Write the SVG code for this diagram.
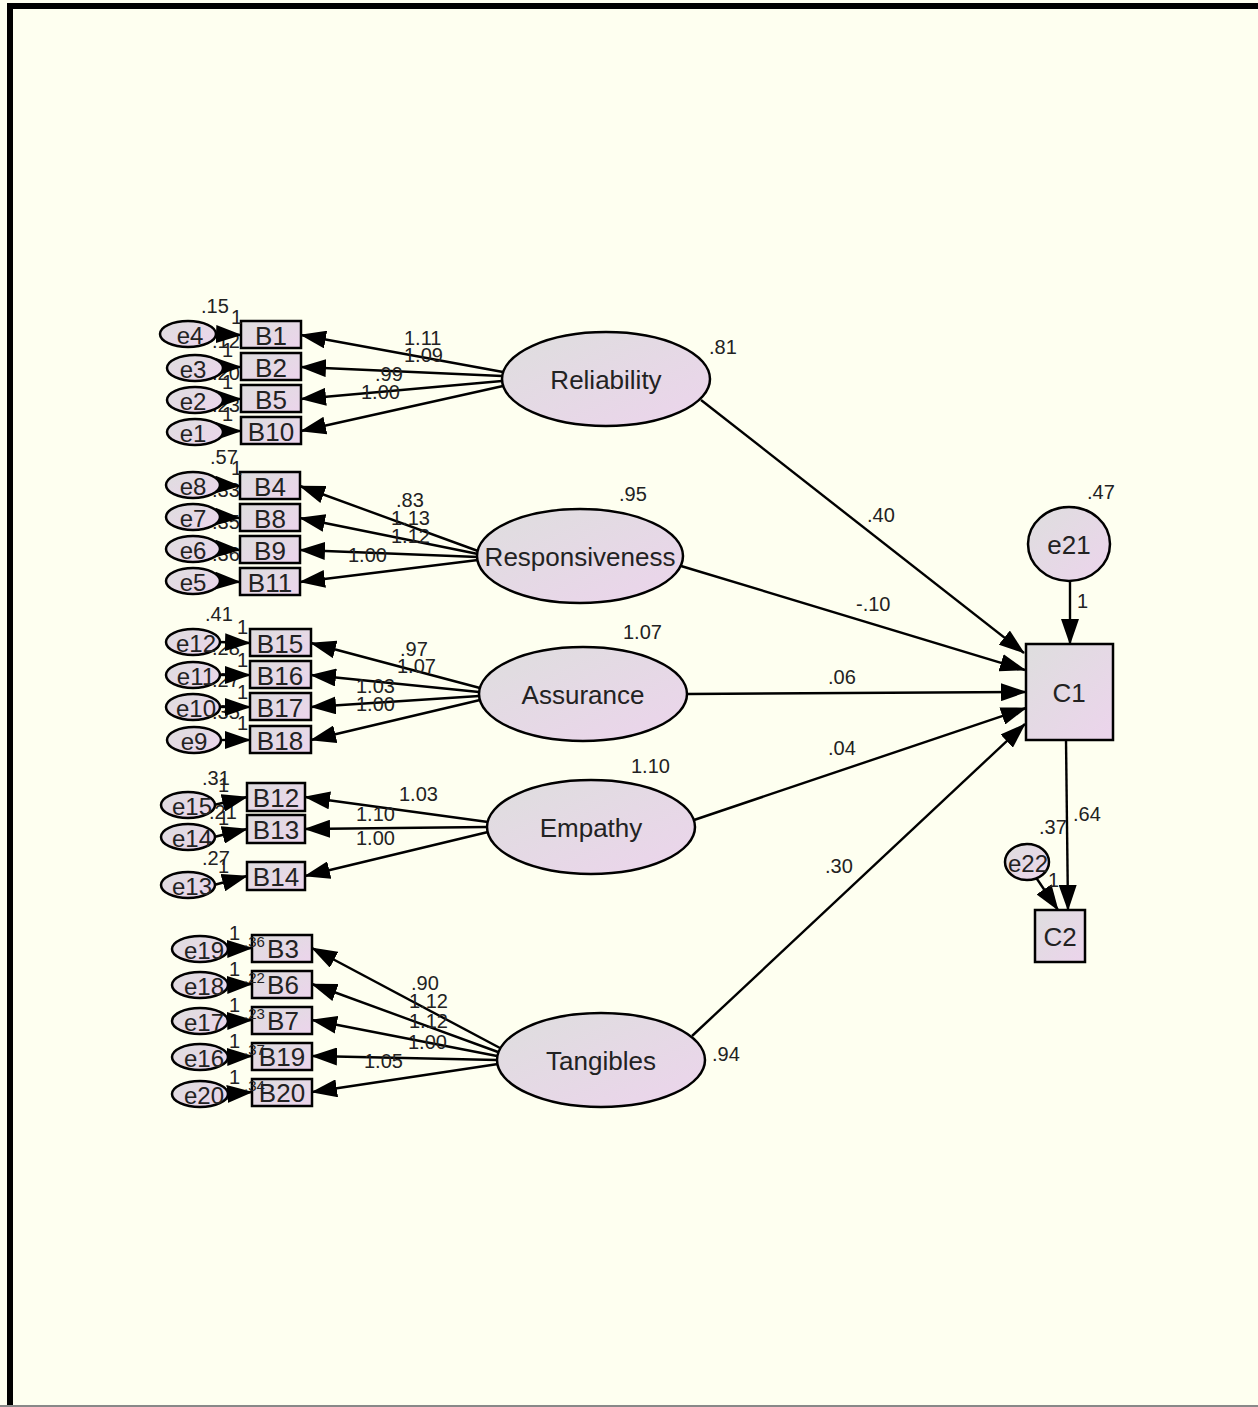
<svg xmlns="http://www.w3.org/2000/svg" width="1258" height="1407" viewBox="0 0 1258 1407">
<defs>
<linearGradient id="g" x1="0" y1="0" x2="1" y2="1">
<stop offset="0" stop-color="#dedede"/>
<stop offset="1" stop-color="#ecd4ec"/>
</linearGradient>
<marker id="ah" markerUnits="userSpaceOnUse" markerWidth="26" markerHeight="18" viewBox="0 0 26 18" refX="25" refY="9" orient="auto">
<path d="M0,0 L26,9 L0,18 Z" fill="#000"/>
</marker>
</defs>
<style>
.n{fill:url(#g);stroke:#000;stroke-width:2.5}
.t{font-family:"Liberation Sans",Arial,sans-serif;font-size:26px;fill:#222;text-anchor:middle;dominant-baseline:central}
.s{font-size:24px}
.l{font-family:"Liberation Sans",Arial,sans-serif;font-size:20px;fill:#222}
.v{font-size:15px}
.c line{stroke:#000;stroke-width:2.4;marker-end:url(#ah)}
</style>
<rect x="0" y="0" width="1258" height="1407" fill="#fefff0"/>
<path d="M10,1407 V6 H1258" fill="none" stroke="#000" stroke-width="6"/>
<line x1="0" y1="1406" x2="1258" y2="1406" stroke="#888" stroke-width="2"/>

<g id="labels-hidden" class="l">
<text x="212" y="348">.12</text>
<text x="212" y="380">.20</text>
<text x="212" y="412">.23</text>
<text x="212" y="497">.33</text>
<text x="212" y="529">.35</text>
<text x="212" y="561">.36</text>
<text x="212" y="655">.28</text>
<text x="212" y="687">.27</text>
<text x="212" y="719">.35</text>
<text x="209" y="819">.21</text>
</g>

<g id="connectors" class="c">
<line x1="215" y1="334" x2="241" y2="335"/>
<line x1="222" y1="367" x2="241" y2="367"/>
<line x1="222" y1="399" x2="241" y2="399"/>
<line x1="222" y1="431" x2="241" y2="431"/>
<line x1="221" y1="485" x2="240" y2="486"/>
<line x1="221" y1="517" x2="240" y2="518"/>
<line x1="221" y1="549" x2="240" y2="550"/>
<line x1="221" y1="581" x2="240" y2="582"/>
<line x1="219" y1="642" x2="250" y2="643"/>
<line x1="219" y1="675" x2="250" y2="675"/>
<line x1="219" y1="707" x2="250" y2="707"/>
<line x1="219" y1="740" x2="250" y2="740"/>
<line x1="214" y1="805" x2="247" y2="797"/>
<line x1="214" y1="837" x2="247" y2="829"/>
<line x1="214" y1="885" x2="247" y2="876"/>
<line x1="226" y1="949" x2="252" y2="948"/>
<line x1="226" y1="985" x2="252" y2="984"/>
<line x1="226" y1="1021" x2="252" y2="1020"/>
<line x1="226" y1="1057" x2="252" y2="1056"/>
<line x1="226" y1="1094" x2="252" y2="1092"/>
<line x1="503" y1="372" x2="301" y2="335"/>
<line x1="502" y1="376" x2="301" y2="367"/>
<line x1="502" y1="381" x2="301" y2="399"/>
<line x1="503" y1="386" x2="301" y2="431"/>
<line x1="478" y1="551" x2="300" y2="486"/>
<line x1="478" y1="554" x2="300" y2="518"/>
<line x1="478" y1="557" x2="300" y2="550"/>
<line x1="478" y1="560" x2="300" y2="582"/>
<line x1="480" y1="688" x2="311" y2="643"/>
<line x1="479" y1="692" x2="311" y2="675"/>
<line x1="479" y1="696" x2="311" y2="707"/>
<line x1="480" y1="700" x2="311" y2="740"/>
<line x1="488" y1="822" x2="305" y2="797"/>
<line x1="487" y1="827" x2="305" y2="829"/>
<line x1="488" y1="832" x2="305" y2="876"/>
<line x1="500" y1="1048" x2="312" y2="948"/>
<line x1="498" y1="1052" x2="312" y2="984"/>
<line x1="497" y1="1056" x2="312" y2="1020"/>
<line x1="497" y1="1060" x2="312" y2="1056"/>
<line x1="498" y1="1064" x2="312" y2="1092"/>
<line x1="701" y1="400" x2="1024" y2="653"/>
<line x1="681" y1="566" x2="1025" y2="670"/>
<line x1="687" y1="694" x2="1026" y2="692"/>
<line x1="694" y1="820" x2="1026" y2="708"/>
<line x1="692" y1="1036" x2="1025" y2="724"/>
<line x1="1070" y1="581" x2="1070" y2="644"/>
<line x1="1066" y1="740" x2="1068" y2="910"/>
<line x1="1035" y1="876" x2="1058" y2="910"/>
</g>

<g id="Reliability"><ellipse class="n" cx="606" cy="379" rx="104" ry="47"/><text class="t" x="606" y="380">Reliability</text></g>
<g id="Responsiveness"><ellipse class="n" cx="580" cy="556" rx="103" ry="47"/><text class="t" x="580" y="557">Responsiveness</text></g>
<g id="Assurance"><ellipse class="n" cx="583" cy="694" rx="104" ry="47"/><text class="t" x="583" y="695">Assurance</text></g>
<g id="Empathy"><ellipse class="n" cx="591" cy="827" rx="104" ry="47"/><text class="t" x="591" y="828">Empathy</text></g>
<g id="Tangibles"><ellipse class="n" cx="601" cy="1060" rx="104" ry="47"/><text class="t" x="601" y="1061">Tangibles</text></g>

<g id="B1"><rect class="n" x="241" y="321" width="60" height="27"/><text class="t" x="271" y="336">B1</text></g>
<g id="B2"><rect class="n" x="241" y="353" width="60" height="27"/><text class="t" x="271" y="368">B2</text></g>
<g id="B5"><rect class="n" x="241" y="385" width="60" height="27"/><text class="t" x="271" y="400">B5</text></g>
<g id="B10"><rect class="n" x="241" y="417" width="60" height="27"/><text class="t" x="271" y="432">B10</text></g>
<g id="B4"><rect class="n" x="240" y="472" width="60" height="27"/><text class="t" x="270" y="487">B4</text></g>
<g id="B8"><rect class="n" x="240" y="504" width="60" height="27"/><text class="t" x="270" y="519">B8</text></g>
<g id="B9"><rect class="n" x="240" y="536" width="60" height="27"/><text class="t" x="270" y="551">B9</text></g>
<g id="B11"><rect class="n" x="240" y="568" width="60" height="27"/><text class="t" x="270" y="583">B11</text></g>
<g id="B15"><rect class="n" x="250" y="629" width="61" height="27"/><text class="t" x="280" y="644">B15</text></g>
<g id="B16"><rect class="n" x="250" y="661" width="61" height="27"/><text class="t" x="280" y="676">B16</text></g>
<g id="B17"><rect class="n" x="250" y="693" width="61" height="27"/><text class="t" x="280" y="708">B17</text></g>
<g id="B18"><rect class="n" x="250" y="726" width="61" height="27"/><text class="t" x="280" y="741">B18</text></g>
<g id="B12"><rect class="n" x="247" y="783" width="58" height="28"/><text class="t" x="276" y="798">B12</text></g>
<g id="B13"><rect class="n" x="247" y="815" width="58" height="28"/><text class="t" x="276" y="830">B13</text></g>
<g id="B14"><rect class="n" x="247" y="862" width="58" height="28"/><text class="t" x="276" y="877">B14</text></g>
<g id="B3"><rect class="n" x="252" y="935" width="60" height="27"/><text class="t" x="283" y="949">B3</text></g>
<g id="B6"><rect class="n" x="252" y="971" width="60" height="27"/><text class="t" x="283" y="985">B6</text></g>
<g id="B7"><rect class="n" x="252" y="1007" width="60" height="27"/><text class="t" x="283" y="1021">B7</text></g>
<g id="B19"><rect class="n" x="252" y="1043" width="60" height="27"/><text class="t" x="282" y="1057">B19</text></g>
<g id="B20"><rect class="n" x="252" y="1079" width="60" height="27"/><text class="t" x="282" y="1093">B20</text></g>

<g id="e4"><ellipse class="n" cx="188" cy="334" rx="28" ry="13"/><text class="t s" x="190" y="335">e4</text></g>
<g id="e3"><ellipse class="n" cx="195" cy="368" rx="28" ry="13"/><text class="t s" x="193" y="369">e3</text></g>
<g id="e2"><ellipse class="n" cx="195" cy="400" rx="28" ry="13"/><text class="t s" x="193" y="401">e2</text></g>
<g id="e1"><ellipse class="n" cx="195" cy="432" rx="28" ry="13"/><text class="t s" x="193" y="433">e1</text></g>
<g id="e8"><ellipse class="n" cx="193" cy="485" rx="27" ry="13"/><text class="t s" x="193" y="486">e8</text></g>
<g id="e7"><ellipse class="n" cx="193" cy="517" rx="27" ry="13"/><text class="t s" x="193" y="518">e7</text></g>
<g id="e6"><ellipse class="n" cx="193" cy="549" rx="27" ry="13"/><text class="t s" x="193" y="550">e6</text></g>
<g id="e5"><ellipse class="n" cx="193" cy="581" rx="27" ry="13"/><text class="t s" x="193" y="582">e5</text></g>
<g id="e12"><ellipse class="n" cx="193" cy="642" rx="27" ry="13"/><text class="t s" x="196" y="643">e12</text></g>
<g id="e11"><ellipse class="n" cx="193" cy="675" rx="27" ry="13"/><text class="t s" x="196" y="676">e11</text></g>
<g id="e10"><ellipse class="n" cx="193" cy="707" rx="27" ry="13"/><text class="t s" x="196" y="708">e10</text></g>
<g id="e9"><ellipse class="n" cx="194" cy="740" rx="27" ry="13"/><text class="t s" x="194" y="741">e9</text></g>
<g id="e15"><ellipse class="n" cx="188" cy="805" rx="27" ry="13"/><text class="t s" x="192" y="806">e15</text></g>
<g id="e14"><ellipse class="n" cx="188" cy="837" rx="27" ry="13"/><text class="t s" x="192" y="838">e14</text></g>
<g id="e13"><ellipse class="n" cx="188" cy="885" rx="27" ry="13"/><text class="t s" x="192" y="886">e13</text></g>
<g id="e19"><ellipse class="n" cx="200" cy="949" rx="28" ry="13"/><text class="t s" x="204" y="950">e19</text></g>
<g id="e18"><ellipse class="n" cx="200" cy="985" rx="28" ry="13"/><text class="t s" x="204" y="986">e18</text></g>
<g id="e17"><ellipse class="n" cx="200" cy="1021" rx="28" ry="13"/><text class="t s" x="204" y="1022">e17</text></g>
<g id="e16"><ellipse class="n" cx="200" cy="1057" rx="28" ry="13"/><text class="t s" x="204" y="1058">e16</text></g>
<g id="e20"><ellipse class="n" cx="200" cy="1094" rx="28" ry="13"/><text class="t s" x="204" y="1095">e20</text></g>

<g id="e21"><ellipse class="n" cx="1069" cy="544" rx="41" ry="37"/><text class="t" x="1069" y="545">e21</text></g>
<g id="C1"><rect class="n" x="1026" y="644" width="87" height="96"/><text class="t" x="1069" y="693">C1</text></g>
<g id="e22"><ellipse class="n" cx="1027" cy="862" rx="22" ry="18"/><text class="t s" x="1028" y="863">e22</text></g>
<g id="C2"><rect class="n" x="1035" y="910" width="50" height="52"/><text class="t" x="1060" y="937">C2</text></g>

<g id="labels" class="l">
<text x="404" y="345">1.11</text>
<text x="404" y="362">1.09</text>
<text x="375" y="381">.99</text>
<text x="361" y="399">1.00</text>
<text x="396" y="507">.83</text>
<text x="391" y="525">1.13</text>
<text x="391" y="543">1.12</text>
<text x="348" y="562">1.00</text>
<text x="400" y="656">.97</text>
<text x="397" y="673">1.07</text>
<text x="356" y="693">1.03</text>
<text x="356" y="711">1.00</text>
<text x="399" y="801">1.03</text>
<text x="356" y="821">1.10</text>
<text x="356" y="845">1.00</text>
<text x="411" y="990">.90</text>
<text x="409" y="1008">1.12</text>
<text x="409" y="1028">1.12</text>
<text x="408" y="1049">1.00</text>
<text x="364" y="1068">1.05</text>
<text x="201" y="313">.15</text>
<text x="231" y="324">1</text>
<text x="222" y="357">1</text>
<text x="222" y="389">1</text>
<text x="222" y="421">1</text>
<text x="210" y="464">.57</text>
<text x="231" y="475">1</text>
<text x="205" y="621">.41</text>
<text x="237" y="634">1</text>
<text x="237" y="667">1</text>
<text x="237" y="699">1</text>
<text x="237" y="730">1</text>
<text x="202" y="785">.31</text>
<text x="218" y="792">1</text>
<text x="218" y="825">1</text>
<text x="202" y="865">.27</text>
<text x="218" y="873">1</text>
<text x="229" y="940">1</text>
<text x="229" y="976">1</text>
<text x="229" y="1012">1</text>
<text x="229" y="1048">1</text>
<text x="229" y="1084">1</text>
<text class="v" x="244" y="947">.36</text>
<text class="v" x="244" y="983">.22</text>
<text class="v" x="244" y="1019">.23</text>
<text class="v" x="244" y="1055">.37</text>
<text class="v" x="244" y="1091">.34</text>
<text x="709" y="354">.81</text>
<text x="619" y="501">.95</text>
<text x="623" y="639">1.07</text>
<text x="631" y="773">1.10</text>
<text x="712" y="1061">.94</text>
<text x="867" y="522">.40</text>
<text x="856" y="611">-.10</text>
<text x="828" y="684">.06</text>
<text x="828" y="755">.04</text>
<text x="825" y="873">.30</text>
<text x="1087" y="499">.47</text>
<text x="1077" y="608">1</text>
<text x="1039" y="834">.37</text>
<text x="1073" y="821">.64</text>
<text x="1048" y="887">1</text>
</g>
</svg>
